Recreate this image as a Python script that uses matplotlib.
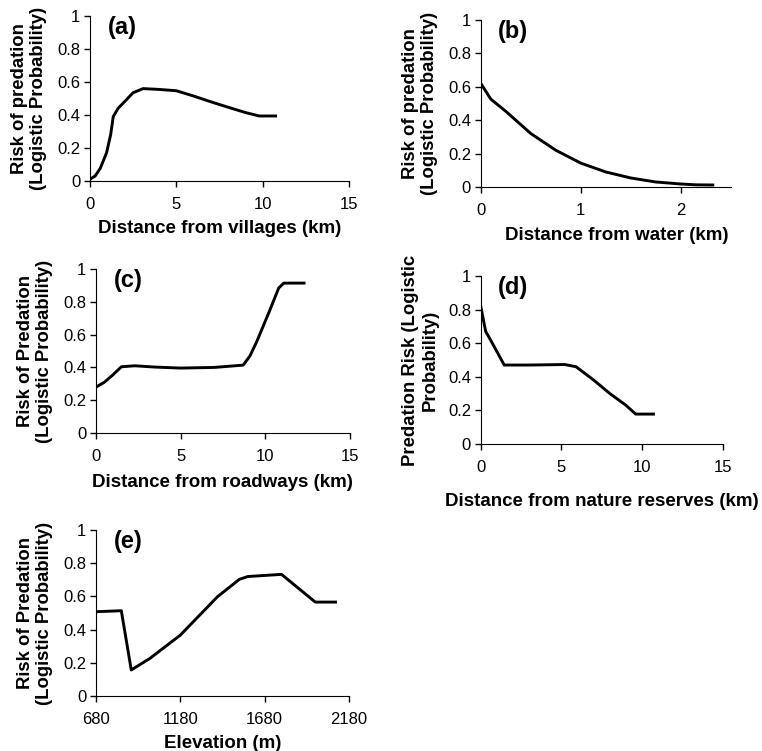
import matplotlib
matplotlib.use("Agg")
import matplotlib.pyplot as plt

plt.rcParams['font.family'] = ['Liberation Sans', 'DejaVu Sans']

# (a) distance from villages
villages_km = [0, 0.3, 0.6, 0.96, 1.2, 1.35, 1.63, 2.0, 2.5, 3.08, 4.0, 5.0, 6.0, 7.0, 8.0, 9.0, 9.8, 10.75]
villages_risk = [0.01, 0.03, 0.077, 0.17, 0.28, 0.39, 0.44, 0.48, 0.535, 0.56, 0.555, 0.547, 0.515, 0.48, 0.447, 0.415, 0.394, 0.394]

# (b) distance from water
water_km = [0, 0.1, 0.25, 0.5, 0.75, 1.0, 1.25, 1.5, 1.75, 2.0, 2.15, 2.32]
water_risk = [0.62, 0.526, 0.453, 0.32, 0.22, 0.143, 0.09, 0.054, 0.03, 0.018, 0.013, 0.012]

# (c) distance from roadways
roads_km = [0, 0.5, 1.0, 1.5, 2.3, 3.5, 5.0, 7.0, 8.7, 9.1, 9.5, 10.2, 10.8, 11.1, 12.3]
roads_risk = [0.28, 0.31, 0.355, 0.404, 0.41, 0.402, 0.396, 0.40, 0.414, 0.47, 0.557, 0.73, 0.884, 0.914, 0.914]

# (d) distance from nature reserves
reserves_km = [0, 0.3, 0.6, 1.45, 3.0, 5.2, 5.9, 7.0, 8.0, 9.0, 9.6, 10.7]
reserves_risk = [0.818, 0.67, 0.62, 0.47, 0.47, 0.473, 0.46, 0.38, 0.30, 0.23, 0.178, 0.178]

# (e) elevation
elev_m = [680, 830, 889, 1000, 1180, 1400, 1530, 1580, 1780, 1980, 2100]
elev_risk = [0.508, 0.514, 0.157, 0.227, 0.367, 0.598, 0.703, 0.72, 0.733, 0.566, 0.566]

y_ticks = [0, 0.2, 0.4, 0.6, 0.8, 1]
y_ticklabels = ['0', '0.2', '0.4', '0.6', '0.8', '1']

panels = [
    ([0.118, 0.759, 0.340, 0.2197], villages_km, villages_risk, [0, 5, 10, 15], (0, 15),
     'Distance from villages (km)', 'Risk of predation\n(Logistic Probability)', '(a)', 6, 0.5),
    ([0.631, 0.751, 0.328, 0.2224], water_km, water_risk, [0, 1, 2], (0, 2.5),
     'Distance from water (km)', 'Risk of predation\n(Logistic Probability)', '(b)', 6.5, 0.544),
    ([0.126, 0.4234, 0.333, 0.2184], roads_km, roads_risk, [0, 5, 10, 15], (0, 15),
     'Distance from roadways (km)', 'Risk of Predation\n(Logistic Probability)', '(c)', 7.5, 0.5),
    ([0.631, 0.4088, 0.3176, 0.2237], reserves_km, reserves_risk, [0, 5, 10, 15], (0, 15),
     'Distance from nature reserves (km)', 'Predation Risk (Logistic\nProbability)', '(d)', 12.7, 0.5),
    ([0.126, 0.0732, 0.332, 0.221], elev_m, elev_risk, [680, 1180, 1680, 2180], (680, 2180),
     'Elevation (m)', 'Risk of Predation\n(Logistic Probability)', '(e)', 6, 0.5),
]

fig = plt.figure(figsize=(7.62, 7.51), dpi=100)

for rect, xs, ys, xt, xl, xlabel, ylabel, tag, xpad, xlab_pos in panels:
    ax = fig.add_axes(rect)
    ax.plot(xs, ys, color='black', linewidth=2.1, solid_joinstyle='round')
    ax.set_xlim(*xl)
    ax.set_ylim(0, 1)
    ax.set_xticks(xt)
    ax.set_yticks(y_ticks)
    ax.set_yticklabels(y_ticklabels)
    ax.spines['top'].set_visible(False)
    ax.spines['right'].set_visible(False)
    ax.tick_params(direction='out', length=4, width=1, labelsize=12, color='black')
    ax.tick_params(axis='x', pad=7.5)
    ax.tick_params(axis='y', pad=3)
    ax.set_xlabel(xlabel, fontsize=13.5, fontweight='bold', labelpad=xpad)
    ax.xaxis.label.set_x(xlab_pos)
    ax.set_ylabel(ylabel, fontsize=13.3, fontweight='bold', labelpad=7, linespacing=1.2)
    ax.text(0.07, 0.93, tag, transform=ax.transAxes, fontsize=17, fontweight='bold',
            va='center', ha='left')

fig.savefig('out.png', dpi=100)
